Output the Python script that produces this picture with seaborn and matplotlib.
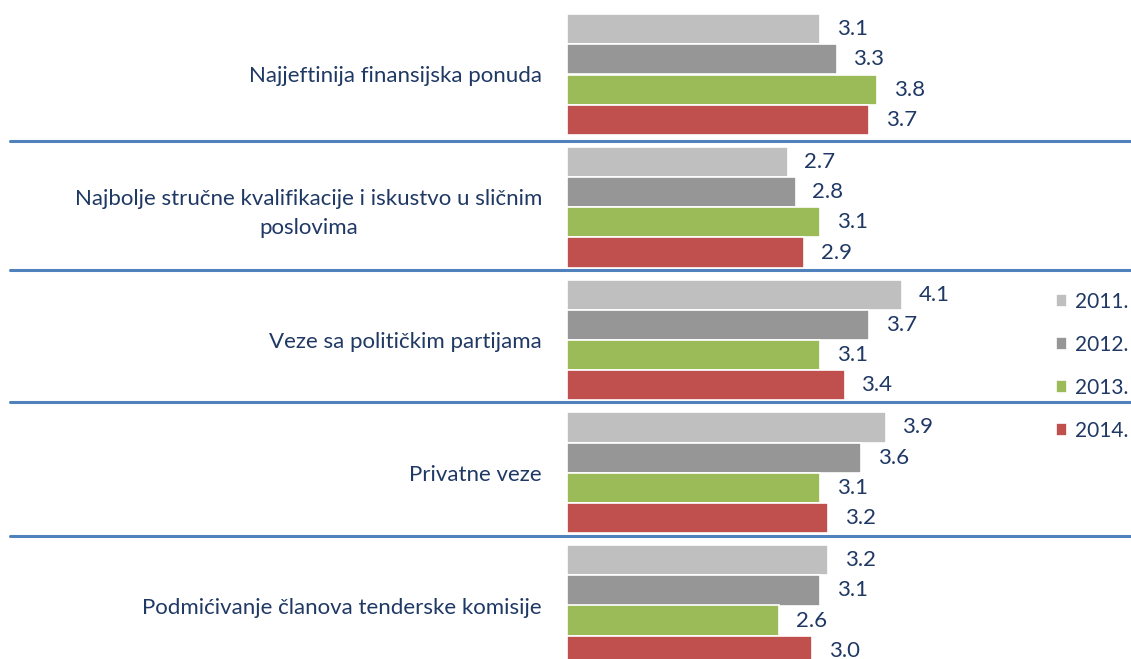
import seaborn as sns
import pandas as pd
import matplotlib
matplotlib.use("Agg")
import matplotlib.pyplot as plt

# categories and yearly scores
kategorije = [
    "Najjeftinija finansijska ponuda",
    "Najbolje stručne kvalifikacije i iskustvo u sličnim\nposlovima",
    "Veze sa političkim partijama",
    "Privatne veze",
    "Podmićivanje članova tenderske komisije",
]
godine = ["2011.", "2012.", "2013.", "2014."]
v2011 = [3.1, 2.7, 4.1, 3.9, 3.2]
v2012 = [3.3, 2.8, 3.7, 3.6, 3.1]
v2013 = [3.8, 3.1, 3.1, 3.1, 2.6]
v2014 = [3.7, 2.9, 3.4, 3.2, 3.0]

boje = ["#BFBFBF", "#969696", "#9BBB59", "#C0504D"]
navy = "#1F3864"
linija = "#4F81BD"

rows = []
for god, vals in zip(godine, [v2011, v2012, v2013, v2014]):
    for k, v in zip(kategorije, vals):
        rows.append({"Kategorija": k, "Godina": god, "Ocjena": v})
df = pd.DataFrame(rows)

sns.set_style("white")
plt.rcParams['font.family'] = ['Lato', 'DejaVu Sans']

W, H = 1131, 659
fig = plt.figure(figsize=(W / 100, H / 100), dpi=100)
left_px = 567
ax = fig.add_axes([left_px / W, 0, (W - left_px) / W, 1])

sns.barplot(data=df, y="Kategorija", x="Ocjena", hue="Godina", orient="h",
            palette=boje, saturation=1, width=0.91, edgecolor="white", linewidth=1.2,
            order=kategorije, hue_order=godine, ax=ax)

px_per_unit = 81.7
ax.set_xlim(0, (W - left_px) / px_per_unit)
pitch = 132.75
c0 = 74.5
ax.set_ylim((H - c0) / pitch, -c0 / pitch)

for c in ax.containers:
    ax.bar_label(c, fmt="%.1f", padding=12, color=navy, fontsize=16)

sns.despine(ax=ax, left=True, bottom=True)
ax.set_xticks([])
ax.set_xlabel("")
ax.set_ylabel("")
ax.tick_params(axis="y", length=0, pad=18, labelsize=16, labelcolor=navy)
for lbl in ax.get_yticklabels():
    lbl.set_multialignment("center")
    lbl.set_linespacing(1.55)

# separators between categories
xmin = -(left_px - 10) / (W - left_px)
for y in [0.5, 1.47, 2.47, 3.48]:
    ax.axhline(y, xmin=xmin, xmax=1, color=linija, linewidth=2.2, clip_on=False)

ax.legend(loc="upper left", bbox_to_anchor=(1056 / W, 1 - 292 / H),
          bbox_transform=fig.transFigure, frameon=False, fontsize=15,
          borderpad=0, borderaxespad=0,
          handlelength=0.55, handleheight=0.55, handletextpad=0.35,
          labelspacing=1.1, labelcolor=navy)

plt.savefig("out.png", dpi=100)
